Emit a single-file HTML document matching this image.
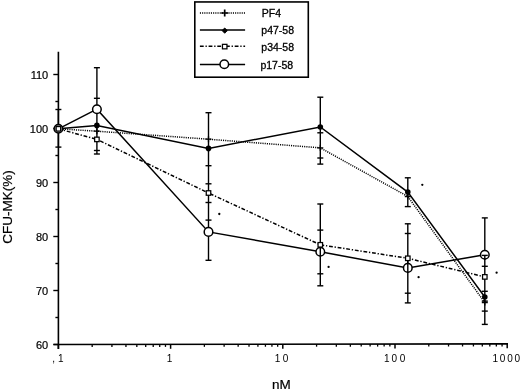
<!DOCTYPE html>
<html><head><meta charset="utf-8"><style>
html,body{margin:0;padding:0;background:#fff;}
body{width:520px;height:391px;overflow:hidden;font-family:"Liberation Sans",sans-serif;}
svg{display:block;will-change:transform;}
text{font-family:"Liberation Sans",sans-serif;fill:#000;}
</style></head><body>
<svg width="520" height="391" viewBox="0 0 520 391">

<rect width="520" height="391" fill="#fff"/>
<g>
<line x1="58.4" y1="51.8" x2="58.4" y2="349.0" stroke="#000" stroke-width="1.6"/>
<line x1="53.5" y1="344.56" x2="508" y2="343.90" stroke="#000" stroke-width="1.6"/>
<line x1="53.3" y1="344.50" x2="58.4" y2="344.50" stroke="#000" stroke-width="1.4"/>
<text transform="translate(48.20,348.70)" font-size="11" text-anchor="end" stroke="#000" stroke-width="0.2">60</text>
<line x1="53.3" y1="290.50" x2="58.4" y2="290.50" stroke="#000" stroke-width="1.4"/>
<text transform="translate(48.20,294.70)" font-size="11" text-anchor="end" stroke="#000" stroke-width="0.2">70</text>
<line x1="53.3" y1="236.50" x2="58.4" y2="236.50" stroke="#000" stroke-width="1.4"/>
<text transform="translate(48.20,240.70)" font-size="11" text-anchor="end" stroke="#000" stroke-width="0.2">80</text>
<line x1="53.3" y1="182.50" x2="58.4" y2="182.50" stroke="#000" stroke-width="1.4"/>
<text transform="translate(48.20,186.70)" font-size="11" text-anchor="end" stroke="#000" stroke-width="0.2">90</text>
<line x1="53.3" y1="128.50" x2="58.4" y2="128.50" stroke="#000" stroke-width="1.4"/>
<text transform="translate(48.20,132.70)" font-size="11" text-anchor="end" stroke="#000" stroke-width="0.2">100</text>
<line x1="53.3" y1="74.50" x2="58.4" y2="74.50" stroke="#000" stroke-width="1.4"/>
<text transform="translate(48.20,78.70)" font-size="11" text-anchor="end" stroke="#000" stroke-width="0.2">110</text>
<line x1="55.4" y1="317.50" x2="58.4" y2="317.50" stroke="#000" stroke-width="1.4"/>
<line x1="55.4" y1="263.50" x2="58.4" y2="263.50" stroke="#000" stroke-width="1.4"/>
<line x1="55.4" y1="209.50" x2="58.4" y2="209.50" stroke="#000" stroke-width="1.4"/>
<line x1="55.4" y1="155.50" x2="58.4" y2="155.50" stroke="#000" stroke-width="1.4"/>
<line x1="55.4" y1="101.50" x2="58.4" y2="101.50" stroke="#000" stroke-width="1.4"/>
<line x1="92.18" y1="344.50" x2="92.18" y2="347.00" stroke="#000" stroke-width="1.3"/>
<line x1="111.93" y1="344.47" x2="111.93" y2="346.97" stroke="#000" stroke-width="1.3"/>
<line x1="125.95" y1="344.45" x2="125.95" y2="346.95" stroke="#000" stroke-width="1.3"/>
<line x1="136.82" y1="344.44" x2="136.82" y2="346.94" stroke="#000" stroke-width="1.3"/>
<line x1="145.71" y1="344.42" x2="145.71" y2="346.92" stroke="#000" stroke-width="1.3"/>
<line x1="153.22" y1="344.41" x2="153.22" y2="346.91" stroke="#000" stroke-width="1.3"/>
<line x1="159.73" y1="344.40" x2="159.73" y2="346.90" stroke="#000" stroke-width="1.3"/>
<line x1="165.47" y1="344.40" x2="165.47" y2="346.90" stroke="#000" stroke-width="1.3"/>
<line x1="204.38" y1="344.34" x2="204.38" y2="346.84" stroke="#000" stroke-width="1.3"/>
<line x1="224.13" y1="344.31" x2="224.13" y2="346.81" stroke="#000" stroke-width="1.3"/>
<line x1="238.15" y1="344.29" x2="238.15" y2="346.79" stroke="#000" stroke-width="1.3"/>
<line x1="249.02" y1="344.27" x2="249.02" y2="346.77" stroke="#000" stroke-width="1.3"/>
<line x1="257.91" y1="344.26" x2="257.91" y2="346.76" stroke="#000" stroke-width="1.3"/>
<line x1="265.42" y1="344.25" x2="265.42" y2="346.75" stroke="#000" stroke-width="1.3"/>
<line x1="271.93" y1="344.24" x2="271.93" y2="346.74" stroke="#000" stroke-width="1.3"/>
<line x1="277.67" y1="344.23" x2="277.67" y2="346.73" stroke="#000" stroke-width="1.3"/>
<line x1="316.58" y1="344.18" x2="316.58" y2="346.68" stroke="#000" stroke-width="1.3"/>
<line x1="336.33" y1="344.15" x2="336.33" y2="346.65" stroke="#000" stroke-width="1.3"/>
<line x1="350.35" y1="344.13" x2="350.35" y2="346.63" stroke="#000" stroke-width="1.3"/>
<line x1="361.22" y1="344.11" x2="361.22" y2="346.61" stroke="#000" stroke-width="1.3"/>
<line x1="370.11" y1="344.10" x2="370.11" y2="346.60" stroke="#000" stroke-width="1.3"/>
<line x1="377.62" y1="344.09" x2="377.62" y2="346.59" stroke="#000" stroke-width="1.3"/>
<line x1="384.13" y1="344.08" x2="384.13" y2="346.58" stroke="#000" stroke-width="1.3"/>
<line x1="389.87" y1="344.07" x2="389.87" y2="346.57" stroke="#000" stroke-width="1.3"/>
<line x1="428.78" y1="344.01" x2="428.78" y2="346.51" stroke="#000" stroke-width="1.3"/>
<line x1="448.53" y1="343.99" x2="448.53" y2="346.49" stroke="#000" stroke-width="1.3"/>
<line x1="462.55" y1="343.96" x2="462.55" y2="346.46" stroke="#000" stroke-width="1.3"/>
<line x1="473.42" y1="343.95" x2="473.42" y2="346.45" stroke="#000" stroke-width="1.3"/>
<line x1="482.31" y1="343.94" x2="482.31" y2="346.44" stroke="#000" stroke-width="1.3"/>
<line x1="489.82" y1="343.93" x2="489.82" y2="346.43" stroke="#000" stroke-width="1.3"/>
<line x1="496.33" y1="343.92" x2="496.33" y2="346.42" stroke="#000" stroke-width="1.3"/>
<line x1="502.07" y1="343.91" x2="502.07" y2="346.41" stroke="#000" stroke-width="1.3"/>
<line x1="58.40" y1="344.55" x2="58.40" y2="348.95" stroke="#000" stroke-width="1.5"/>
<line x1="170.60" y1="344.39" x2="170.60" y2="348.79" stroke="#000" stroke-width="1.5"/>
<line x1="282.80" y1="344.23" x2="282.80" y2="348.63" stroke="#000" stroke-width="1.5"/>
<line x1="395.00" y1="344.06" x2="395.00" y2="348.46" stroke="#000" stroke-width="1.5"/>
<line x1="507.20" y1="343.90" x2="507.20" y2="348.30" stroke="#000" stroke-width="1.5"/>
<text x="52.31 58.04" y="362.0" font-size="10.0">,1</text>
<text x="166.74" y="362.0" font-size="10.0">1</text>
<text x="274.84 282.82" y="362.0" font-size="10.0">10</text>
<text x="383.94 391.62 399.72" y="362.0" font-size="10.0">100</text>
<text x="492.54 499.82 507.22 514.62" y="362.0" font-size="10.0">1000</text>
<text transform="translate(281.40,389.30)" font-size="13.5" text-anchor="middle" stroke="#000" stroke-width="0.2">nM</text>
<text transform="translate(11.60,206.90) rotate(-90)" font-size="13.5" text-anchor="middle" stroke="#000" stroke-width="0.2">CFU-MK(%)</text>
<polyline points="58.4,128.8 96.9,131.2 208.5,139.2 320.3,147.8 407.8,196.5 484.8,302.5" fill="none" stroke="#000" stroke-width="1.5" stroke-dasharray="1.1 1.1"/>
<polyline points="58.4,128.8 96.9,139.4 208.5,193.0 320.3,244.8 407.8,258.3 484.8,276.9" fill="none" stroke="#000" stroke-width="1.5" stroke-dasharray="3.8 1.8 1.3 1.8"/>
<polyline points="58.4,128.8 96.9,125.4 208.5,148.4 320.3,127.0 407.8,192.1 484.8,297.0" fill="none" stroke="#000" stroke-width="1.5"/>
<polyline points="58.4,128.8 96.9,109.2 208.5,231.9 320.3,251.8 407.8,267.9 484.8,254.8" fill="none" stroke="#000" stroke-width="1.5"/>
<line x1="58.4" y1="109.5" x2="58.4" y2="147.1" stroke="#000" stroke-width="1.4"/>
<line x1="55.4" y1="109.5" x2="61.4" y2="109.5" stroke="#000" stroke-width="1.4"/>
<line x1="55.4" y1="147.1" x2="61.4" y2="147.1" stroke="#000" stroke-width="1.4"/>
<line x1="96.9" y1="67.7" x2="96.9" y2="154.0" stroke="#000" stroke-width="1.4"/>
<line x1="93.9" y1="67.7" x2="99.9" y2="67.7" stroke="#000" stroke-width="1.4"/>
<line x1="93.9" y1="98.3" x2="99.9" y2="98.3" stroke="#000" stroke-width="1.4"/>
<line x1="93.9" y1="150.5" x2="99.9" y2="150.5" stroke="#000" stroke-width="1.4"/>
<line x1="93.9" y1="154.0" x2="99.9" y2="154.0" stroke="#000" stroke-width="1.4"/>
<line x1="208.5" y1="112.7" x2="208.5" y2="260.3" stroke="#000" stroke-width="1.4"/>
<line x1="205.5" y1="112.7" x2="211.5" y2="112.7" stroke="#000" stroke-width="1.4"/>
<line x1="205.5" y1="165.7" x2="211.5" y2="165.7" stroke="#000" stroke-width="1.4"/>
<line x1="205.5" y1="183.8" x2="211.5" y2="183.8" stroke="#000" stroke-width="1.4"/>
<line x1="205.5" y1="202.5" x2="211.5" y2="202.5" stroke="#000" stroke-width="1.4"/>
<line x1="205.5" y1="220.1" x2="211.5" y2="220.1" stroke="#000" stroke-width="1.4"/>
<line x1="205.5" y1="260.3" x2="211.5" y2="260.3" stroke="#000" stroke-width="1.4"/>
<line x1="320.3" y1="97.2" x2="320.3" y2="164.1" stroke="#000" stroke-width="1.4"/>
<line x1="320.3" y1="204.0" x2="320.3" y2="285.8" stroke="#000" stroke-width="1.4"/>
<line x1="317.3" y1="97.2" x2="323.3" y2="97.2" stroke="#000" stroke-width="1.4"/>
<line x1="317.3" y1="132.8" x2="323.3" y2="132.8" stroke="#000" stroke-width="1.4"/>
<line x1="317.3" y1="158.0" x2="323.3" y2="158.0" stroke="#000" stroke-width="1.4"/>
<line x1="317.3" y1="164.1" x2="323.3" y2="164.1" stroke="#000" stroke-width="1.4"/>
<line x1="317.3" y1="204.0" x2="323.3" y2="204.0" stroke="#000" stroke-width="1.4"/>
<line x1="317.3" y1="230.1" x2="323.3" y2="230.1" stroke="#000" stroke-width="1.4"/>
<line x1="317.3" y1="273.8" x2="323.3" y2="273.8" stroke="#000" stroke-width="1.4"/>
<line x1="317.3" y1="285.8" x2="323.3" y2="285.8" stroke="#000" stroke-width="1.4"/>
<line x1="407.8" y1="177.8" x2="407.8" y2="206.6" stroke="#000" stroke-width="1.4"/>
<line x1="407.8" y1="223.8" x2="407.8" y2="302.9" stroke="#000" stroke-width="1.4"/>
<line x1="404.8" y1="177.8" x2="410.8" y2="177.8" stroke="#000" stroke-width="1.4"/>
<line x1="404.8" y1="206.6" x2="410.8" y2="206.6" stroke="#000" stroke-width="1.4"/>
<line x1="404.8" y1="223.8" x2="410.8" y2="223.8" stroke="#000" stroke-width="1.4"/>
<line x1="404.8" y1="233.5" x2="410.8" y2="233.5" stroke="#000" stroke-width="1.4"/>
<line x1="404.8" y1="293.2" x2="410.8" y2="293.2" stroke="#000" stroke-width="1.4"/>
<line x1="404.8" y1="302.9" x2="410.8" y2="302.9" stroke="#000" stroke-width="1.4"/>
<line x1="484.8" y1="217.9" x2="484.8" y2="324.4" stroke="#000" stroke-width="1.4"/>
<line x1="481.8" y1="217.9" x2="487.8" y2="217.9" stroke="#000" stroke-width="1.4"/>
<line x1="481.8" y1="255.4" x2="487.8" y2="255.4" stroke="#000" stroke-width="1.4"/>
<line x1="481.8" y1="266.3" x2="487.8" y2="266.3" stroke="#000" stroke-width="1.4"/>
<line x1="481.8" y1="291.3" x2="487.8" y2="291.3" stroke="#000" stroke-width="1.4"/>
<line x1="481.8" y1="301.1" x2="487.8" y2="301.1" stroke="#000" stroke-width="1.4"/>
<line x1="481.8" y1="311.1" x2="487.8" y2="311.1" stroke="#000" stroke-width="1.4"/>
<line x1="481.8" y1="324.4" x2="487.8" y2="324.4" stroke="#000" stroke-width="1.4"/>
<circle cx="58.4" cy="128.8" r="4.3" fill="#a0a0a0" stroke="#000" stroke-width="1.5"/>
<circle cx="96.9" cy="109.2" r="4.3" fill="#fff" stroke="#000" stroke-width="1.5"/>
<circle cx="208.5" cy="231.9" r="4.3" fill="#fff" stroke="#000" stroke-width="1.5"/>
<circle cx="320.3" cy="251.8" r="4.3" fill="#fff" stroke="#000" stroke-width="1.5"/>
<circle cx="407.8" cy="267.9" r="4.3" fill="#fff" stroke="#000" stroke-width="1.5"/>
<circle cx="484.8" cy="254.8" r="4.3" fill="#fff" stroke="#000" stroke-width="1.5"/>
<line x1="320.3" y1="246" x2="320.3" y2="256.5" stroke="#000" stroke-width="1.4"/>
<line x1="407.8" y1="259" x2="407.8" y2="272.5" stroke="#000" stroke-width="1.4"/>
<line x1="484.8" y1="255.4" x2="484.8" y2="260" stroke="#000" stroke-width="1.4"/>
<line x1="481.8" y1="255.4" x2="487.8" y2="255.4" stroke="#000" stroke-width="1.4"/>
<circle cx="96.9" cy="125.4" r="2.8" fill="#000"/>
<circle cx="208.5" cy="148.4" r="2.8" fill="#000"/>
<circle cx="320.3" cy="127.0" r="2.8" fill="#000"/>
<circle cx="407.8" cy="192.1" r="2.8" fill="#000"/>
<circle cx="484.8" cy="297.0" r="2.8" fill="#000"/>
<path d="M93.9 131.2H99.9M96.9 128.2V134.2" stroke="#000" stroke-width="1.3"/>
<path d="M205.5 139.2H211.5M208.5 136.2V142.2" stroke="#000" stroke-width="1.3"/>
<path d="M317.3 147.8H323.3M320.3 144.8V150.8" stroke="#000" stroke-width="1.3"/>
<path d="M404.8 196.5H410.8M407.8 193.5V199.5" stroke="#000" stroke-width="1.3"/>
<path d="M481.8 302.5H487.8M484.8 299.5V305.5" stroke="#000" stroke-width="1.3"/>
<rect x="56.15" y="126.55000000000001" width="4.5" height="4.5" fill="#fff" stroke="#000" stroke-width="1.25"/>
<rect x="94.65" y="137.15" width="4.5" height="4.5" fill="#fff" stroke="#000" stroke-width="1.25"/>
<rect x="206.25" y="190.75" width="4.5" height="4.5" fill="#fff" stroke="#000" stroke-width="1.25"/>
<rect x="318.05" y="242.55" width="4.5" height="4.5" fill="#fff" stroke="#000" stroke-width="1.25"/>
<rect x="405.55" y="256.05" width="4.5" height="4.5" fill="#fff" stroke="#000" stroke-width="1.25"/>
<rect x="482.55" y="274.65" width="4.5" height="4.5" fill="#fff" stroke="#000" stroke-width="1.25"/>
<circle cx="219.3" cy="214.0" r="1.15" fill="#000"/>
<circle cx="328.6" cy="266.9" r="1.15" fill="#000"/>
<circle cx="422.3" cy="184.8" r="1.15" fill="#000"/>
<circle cx="418.6" cy="277.2" r="1.15" fill="#000"/>
<circle cx="496.6" cy="272.7" r="1.15" fill="#000"/>
<rect x="194.8" y="1.95" width="113.5" height="75.25" fill="none" stroke="#000" stroke-width="1.6"/>
<line x1="199.9" y1="13.0" x2="245.1" y2="13.0" stroke="#000" stroke-width="1.5" stroke-dasharray="1.1 1.1"/>
<path d="M221.2 13.0H228.2M224.7 9.5V16.5" stroke="#000" stroke-width="1.7"/>
<line x1="199.9" y1="30.0" x2="245.1" y2="30.0" stroke="#000" stroke-width="1.5"/>
<path d="M224.7 28.0L227.29999999999998 30.6L224.7 33.2L222.1 30.6Z" fill="#000" stroke="#000" stroke-width="1" stroke-linejoin="round"/>
<line x1="199.9" y1="46.2" x2="245.1" y2="46.2" stroke="#000" stroke-width="1.5" stroke-dasharray="3.8 1.8 1.3 1.8"/>
<rect x="222.45" y="44.35" width="4.5" height="4.5" fill="#fff" stroke="#000" stroke-width="1.25"/>
<line x1="199.9" y1="64.6" x2="245.1" y2="64.6" stroke="#000" stroke-width="1.5"/>
<circle cx="224.29999999999998" cy="64.3" r="4.3" fill="#fff" stroke="#000" stroke-width="1.5"/>
<text transform="translate(261.80,17.30)" font-size="10.5" stroke="#000" stroke-width="0.3">PF4</text>
<text transform="translate(261.30,34.40)" font-size="10.5" stroke="#000" stroke-width="0.3">p47-58</text>
<text transform="translate(261.30,50.80)" font-size="10.5" stroke="#000" stroke-width="0.3">p34-58</text>
<text transform="translate(260.40,68.60)" font-size="10.5" stroke="#000" stroke-width="0.3">p17-58</text>
</g>
</svg>
</body></html>
